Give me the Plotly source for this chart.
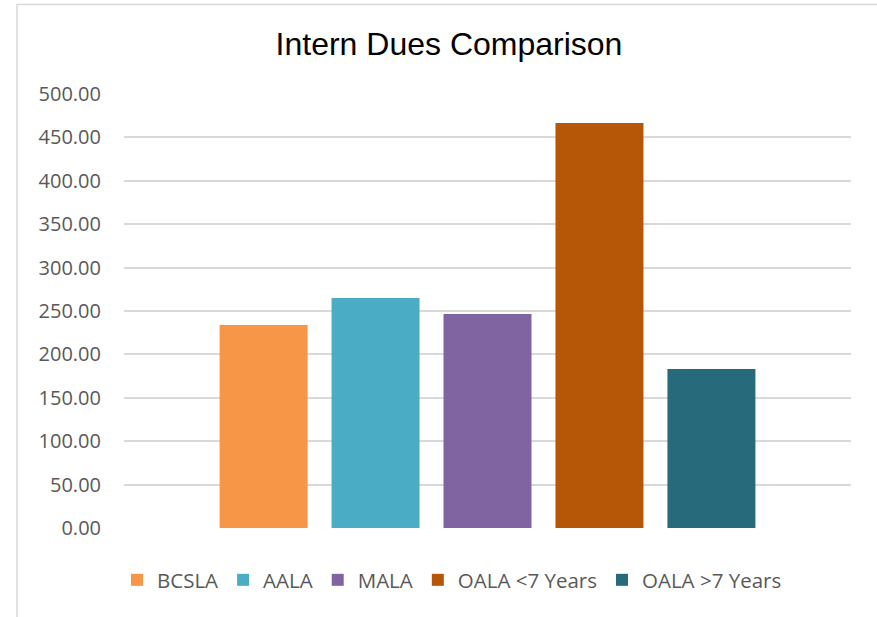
import plotly.graph_objects as go

categories = ["Intern Dues"]
series_names = ["BCSLA", "AALA", "MALA", "OALA <7 Years", "OALA >7 Years"]
series_values = [234.0, 265.0, 246.5, 466.7, 183.2]
series_colors = ["#F79646", "#4BACC6", "#8064A2", "#B65708", "#276A7C"]
y_ticks = [0, 50, 100, 150, 200, 250, 300, 350, 400, 450, 500]

W, H = 877, 617
L, R, T, B = 124, 26, 94, 89
pw, ph = W - L - R, H - T - B

fig = go.Figure()
for name, val, col in zip(series_names, series_values, series_colors):
    fig.add_trace(go.Bar(x=categories, y=[val], name=name, marker=dict(color=col, line=dict(width=0))))

def px_x(x):
    return (x - L) / pw

def px_y(y):
    return (H - B - y) / ph

fig.update_layout(
    width=W, height=H,
    margin=dict(l=L, r=R, t=T, b=B, autoexpand=False),
    paper_bgcolor="white", plot_bgcolor="white",
    barmode="group", bargap=0.23, bargroupgap=0.214,
    title=dict(text="Intern Dues Comparison", x=449 / W, xanchor="center",
               y=1 - 44 / H, yanchor="middle", xref="container", yref="container",
               font=dict(family="Liberation Sans, Arial", size=32, color="#000000")),
    font=dict(family="Open Sans", color="#595959"),
    xaxis=dict(showticklabels=False, showgrid=False, zeroline=False, showline=False, ticks=""),
    yaxis=dict(range=[0, 500], tickvals=y_ticks, tickformat=".2f",
               showgrid=True, gridcolor="#D9D9D9", gridwidth=1.5,
               zeroline=False, showline=False, ticks="", ticklabelstandoff=22,
               tickfont=dict(family="Open Sans", size=20, color="#595959")),
    legend=dict(orientation="h", x=px_x(452), xanchor="center", y=px_y(580), yanchor="middle",
                font=dict(family="Open Sans", size=20.5, color="#595959"),
                itemwidth=30, traceorder="normal", bgcolor="rgba(0,0,0,0)"),
    shapes=[dict(type="rect", xref="paper", yref="paper",
                 x0=px_x(17), x1=px_x(W + 20), y0=px_y(H + 20), y1=px_y(4.5),
                 line=dict(color="#D9D9D9", width=1.5), fillcolor="rgba(0,0,0,0)", layer="below")],
)

fig.write_html("out.html", config={"displayModeBar": False},
               post_script="document.body.style.margin='0';document.body.style.padding='0';")
